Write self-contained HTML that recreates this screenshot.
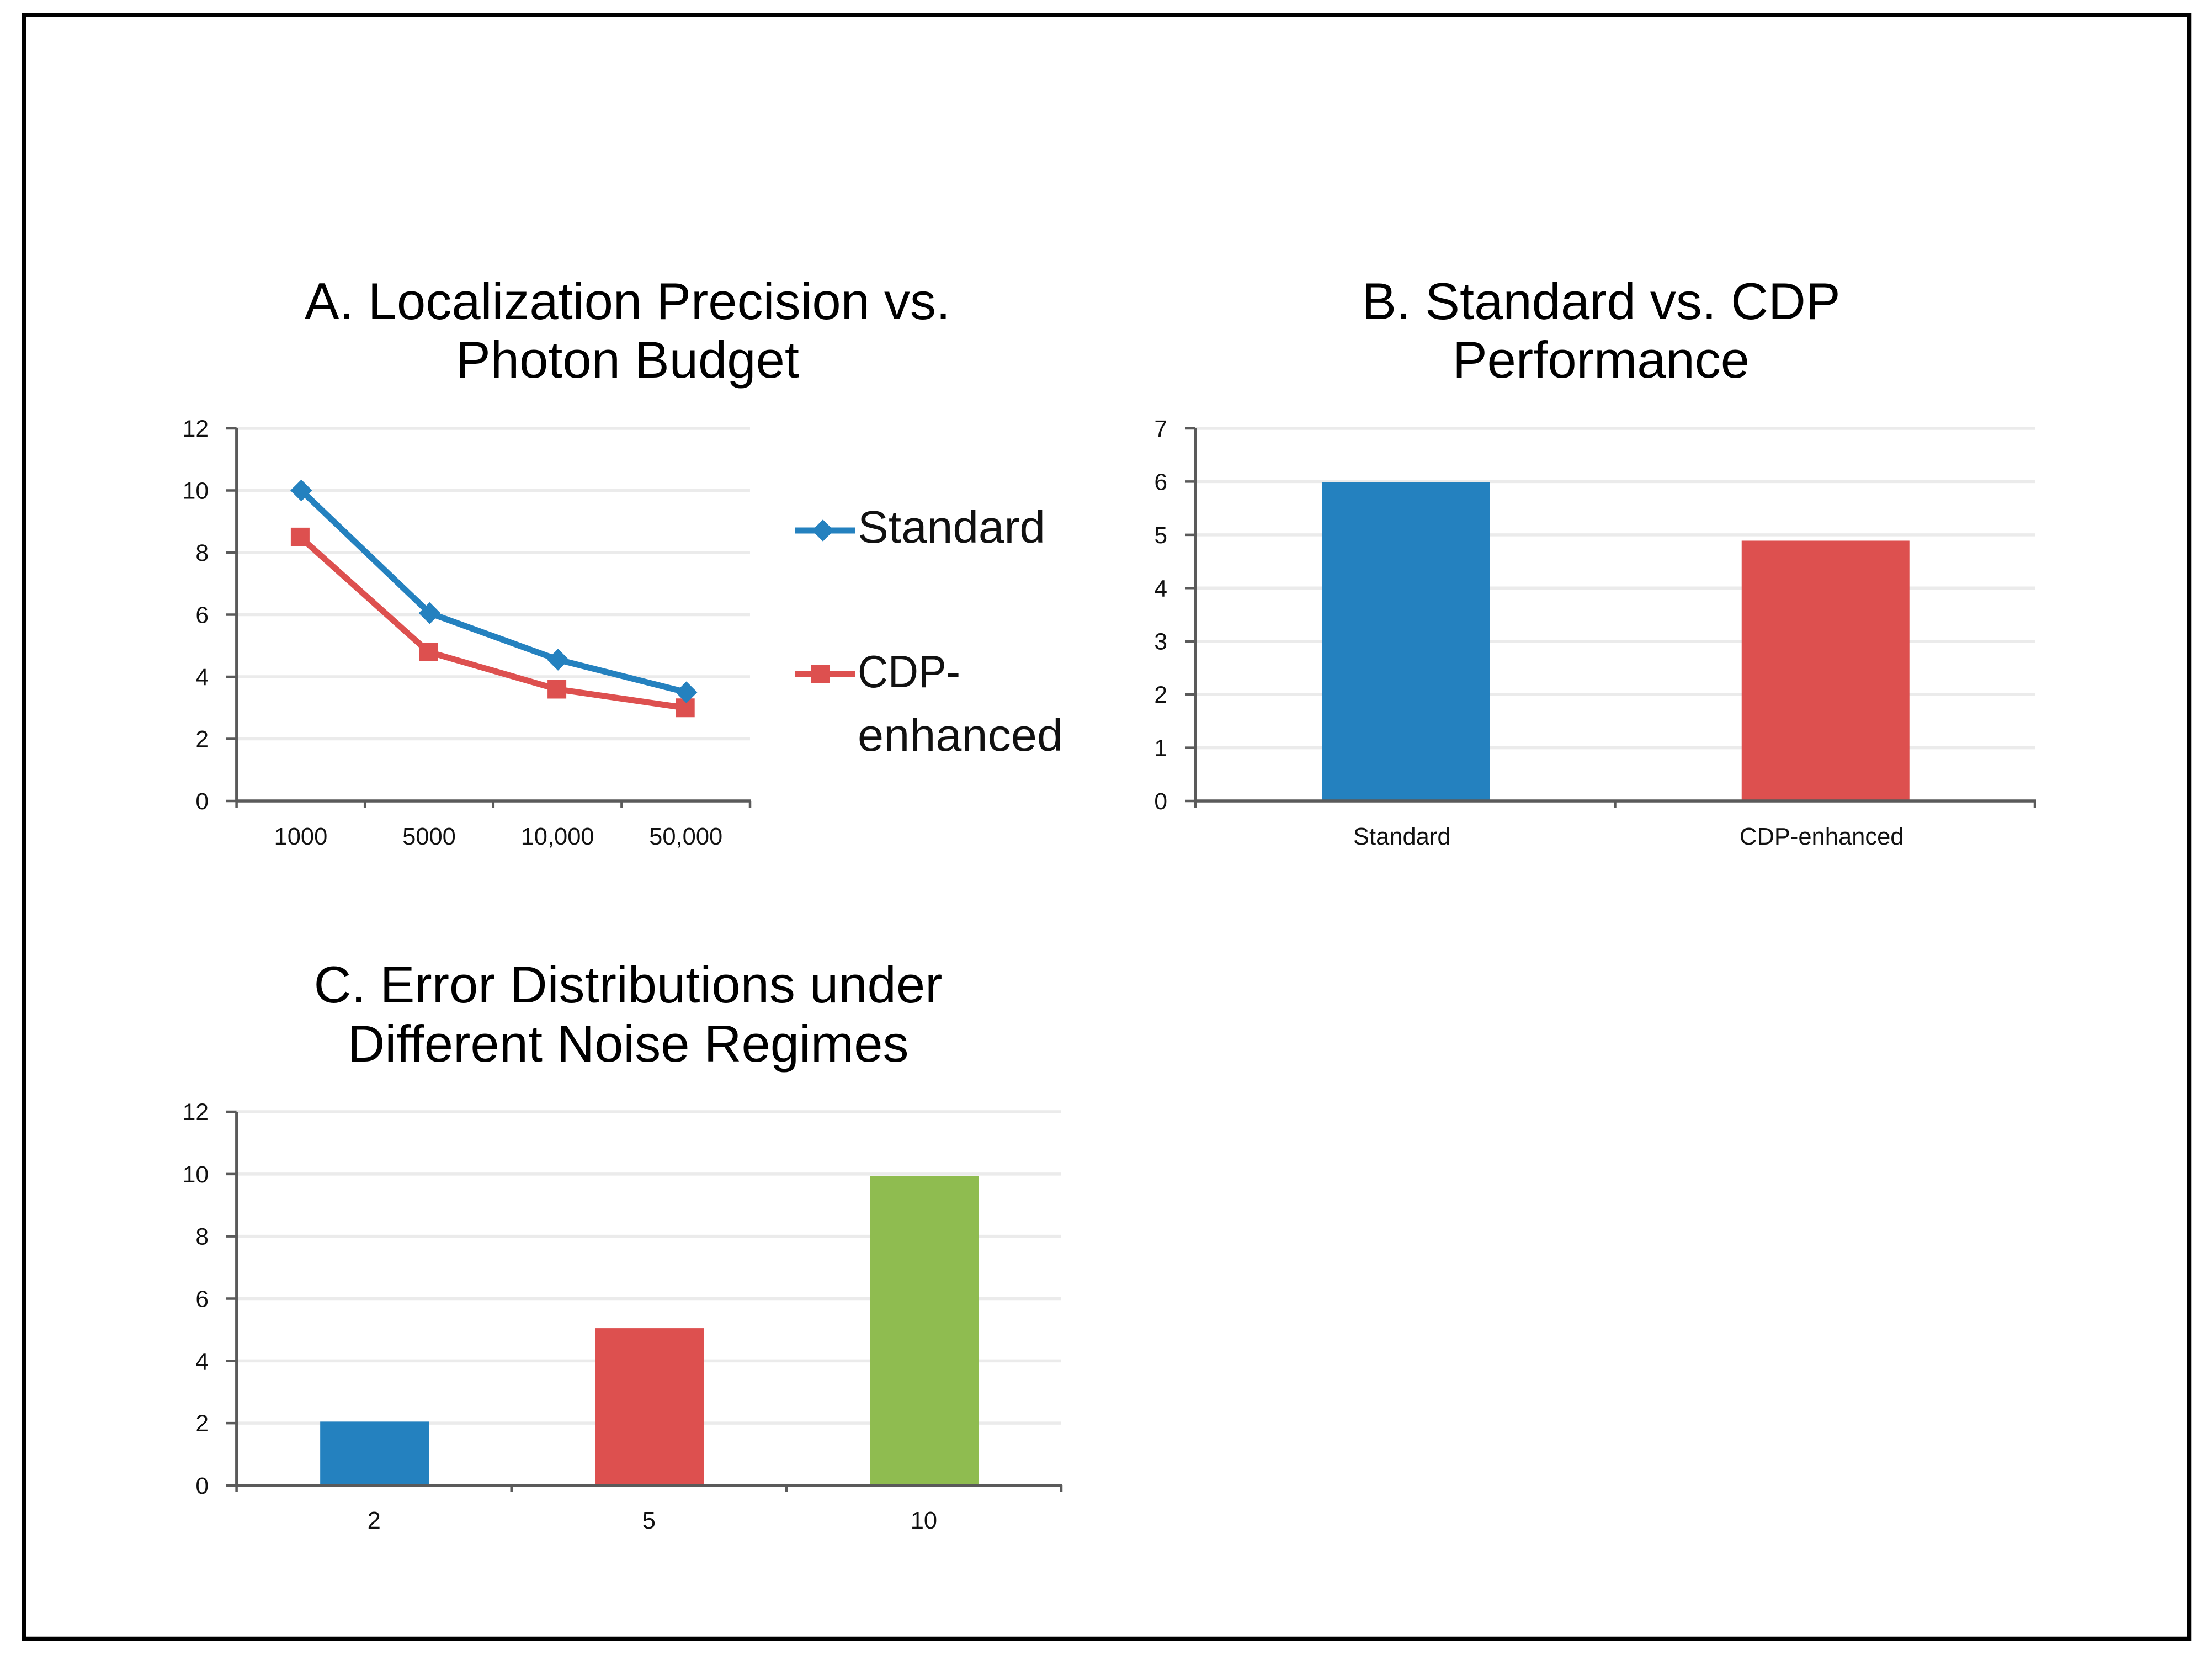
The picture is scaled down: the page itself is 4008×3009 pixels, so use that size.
<!DOCTYPE html>
<html lang="en">
<head>
<meta charset="utf-8">
<title>Localization precision charts</title>
<style>
html,body{margin:0;padding:0;background:#fff;width:4008px;height:3009px;overflow:hidden}
svg{display:block;font-family:"Liberation Sans",Arial,sans-serif}
.title{font-size:94px;fill:#000;text-anchor:middle}
.tick{font-size:42.5px;fill:#111}
.legend{font-size:83px;fill:#111}
</style>
</head>
<body>
<svg id="fig" xmlns="http://www.w3.org/2000/svg" width="4008" height="3009" viewBox="0 0 4008 3009">
  <rect x="43.5" y="27" width="3923" height="2941.5" fill="#fff" stroke="#000" stroke-width="7.5"/>
  <text class="title"><tspan x="1137" y="578">A. Localization Precision vs.</tspan><tspan x="1137" y="684">Photon Budget</tspan></text>
  <text class="title"><tspan x="2901" y="578">B. Standard vs. CDP</tspan><tspan x="2901" y="684">Performance</tspan></text>
  <text class="title"><tspan x="1138" y="1816">C. Error Distributions under</tspan><tspan x="1138" y="1923">Different Noise Regimes</tspan></text>
  <g id="chart-a"></g>
  <g id="chart-b"></g>
  <g id="chart-c"></g>
  <g>
    <line x1="1441" y1="961" x2="1550" y2="961" stroke="#2481bf" stroke-width="11"/>
    <rect x="1477" y="947" width="28" height="28" fill="#2481bf" transform="rotate(45 1491 961)"/>
    <text class="legend" x="1554" y="983" textLength="340" lengthAdjust="spacingAndGlyphs">Standard</text>
  </g>
  <g>
    <line x1="1441" y1="1221" x2="1550" y2="1221" stroke="#dd504f" stroke-width="11"/>
    <rect x="1470" y="1204" width="34" height="34" fill="#dd504f"/>
    <text class="legend" x="1554" y="1245" textLength="186" lengthAdjust="spacingAndGlyphs">CDP-</text>
    <text class="legend" x="1554" y="1360" textLength="372" lengthAdjust="spacingAndGlyphs">enhanced</text>
  </g>
</svg>
<script>
var photonCategories = ['1000', '5000', '10,000', '50,000'];
var standardValues = [10, 6.05, 4.55, 3.5];
var cdpValues = [8.5, 4.8, 3.6, 3.0];
var precisionTicks = [0, 2, 4, 6, 8, 10, 12];

var methodCategories = ['Standard', 'CDP-enhanced'];
var methodValues = [5.99, 4.89];
var methodTicks = [0, 1, 2, 3, 4, 5, 6, 7];

var noiseCategories = ['2', '5', '10'];
var noiseValues = [2.05, 5.05, 9.93];
var noiseTicks = [0, 2, 4, 6, 8, 10, 12];

var BLUE = '#2481bf';
var RED = '#dd504f';
var GREEN = '#8fbc50';
var NS = 'http://www.w3.org/2000/svg';

function make(parent, tag, attrs, text) {
  var el = document.createElementNS(NS, tag);
  for (var k in attrs) el.setAttribute(k, attrs[k]);
  if (text !== undefined) el.textContent = text;
  parent.appendChild(el);
  return el;
}

function frame(parent, box, ticks, cats, labelDx, labelBaseline, labelRight) {
  var maxV = ticks[ticks.length - 1];
  var y = function (v) { return box.y0 - (v / maxV) * (box.y0 - box.y1); };
  var band = (box.x1 - box.x0) / cats.length;
  var x = function (i) { return box.x0 + band * (i + 0.5); };

  ticks.forEach(function (t) {
    if (t !== 0) {
      var grid = make(parent, 'line', { x1: box.x0, x2: box.x1, y1: y(t), y2: y(t), stroke: '#ebebeb', 'stroke-width': 5.5 });
      
      
    }
    var tm = make(parent, 'line', { x1: box.x0 - 19, x2: box.x0, y1: y(t), y2: y(t), stroke: '#5a5a5a', 'stroke-width': 4.5 });
    
    
    var lab = make(parent, 'text', { x: labelRight, y: y(t) + 15, 'text-anchor': 'end', 'class': 'tick' }, String(t));
    
    
  });

  cats.forEach(function (c, i) {
    var cl = make(parent, 'text', { x: x(i) + labelDx, y: labelBaseline, 'text-anchor': 'middle', 'class': 'tick', style: 'font-size:43.5px' }, c);
    
    
  });
  for (var i = 0; i <= cats.length; i++) {
    var xt = make(parent, 'line', { x1: box.x0 + band * i, x2: box.x0 + band * i, y1: box.y0, y2: box.y0 + 12, stroke: '#5a5a5a', 'stroke-width': 4.5 });
    
    
  }
  return { x: x, y: y, band: band };
}

function axes(parent, box) {
  var ya = make(parent, 'line', { x1: box.x0, x2: box.x0, y1: box.y1, y2: box.y0 + 2, stroke: '#5a5a5a', 'stroke-width': 5 });
  
  
  var xa = make(parent, 'line', { x1: box.x0 - 2, x2: box.x1 + 2, y1: box.y0, y2: box.y0, stroke: '#5a5a5a', 'stroke-width': 5.5 });
  
  
}

function bars(parent, scale, box, values, colors, width, dx) {
  values.forEach(function (v, i) {
    var r = make(parent, 'rect', { x: scale.x(i) + dx - width / 2, y: scale.y(v), width: width, height: box.y0 - scale.y(v), fill: colors[i] });
    
    
  });
}

/* Chart A */
var gA = document.getElementById('chart-a');
var boxA = { x0: 428.6, x1: 1359, y0: 1451, y1: 776 };
var sA = frame(gA, boxA, precisionTicks, photonCategories, 0, 1530, 378);
axes(gA, boxA);

var ptsCdp = cdpValues.map(function (v, i) { return (sA.x(i) - 1) + ',' + sA.y(v); }).join(' ');
var lineCdp = make(gA, 'polyline', { points: ptsCdp, fill: 'none', stroke: RED, 'stroke-width': 11, 'stroke-linejoin': 'round' });


cdpValues.forEach(function (v, i) {
  var m = make(gA, 'rect', { x: sA.x(i) - 1 - 17, y: sA.y(v) - 17, width: 34, height: 34, fill: RED });
  
  
});

var ptsStd = standardValues.map(function (v, i) { return (sA.x(i) + 1) + ',' + sA.y(v); }).join(' ');
var lineStd = make(gA, 'polyline', { points: ptsStd, fill: 'none', stroke: BLUE, 'stroke-width': 11, 'stroke-linejoin': 'round' });


standardValues.forEach(function (v, i) {
  var px = sA.x(i) + 1, py = sA.y(v);
  var d = make(gA, 'rect', { x: px - 14, y: py - 14, width: 28, height: 28, fill: BLUE, transform: 'rotate(45 ' + px + ' ' + py + ')' });
  
  
});

/* Chart B */
var gB = document.getElementById('chart-b');
var boxB = { x0: 2166, x1: 3687, y0: 1451, y1: 776 };
var sB = frame(gB, boxB, methodTicks, methodCategories, -6, 1530, 2115);
bars(gB, sB, boxB, methodValues, [BLUE, RED], 304, 1);
axes(gB, boxB);

/* Chart C */
var gC = document.getElementById('chart-c');
var boxC = { x0: 428.6, x1: 1923, y0: 2691, y1: 2014 };
var sC = frame(gC, boxC, noiseTicks, noiseCategories, 0, 2769, 378);
bars(gC, sC, boxC, noiseValues, [BLUE, RED, GREEN], 197, 1);
axes(gC, boxC);
</script>
</body>
</html>
